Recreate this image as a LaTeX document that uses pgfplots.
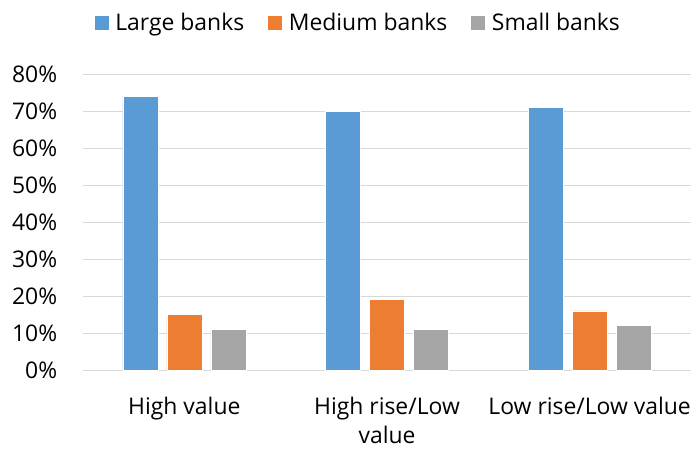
\documentclass[border=0pt]{standalone}
\usepackage{pgfplots}
\pgfplotsset{compat=1.18}
\usepackage{fontspec}
\setmainfont{Open Sans}
\definecolor{cLarge}{HTML}{5B9BD5}
\definecolor{cMedium}{HTML}{ED7D31}
\definecolor{cSmall}{HTML}{A5A5A5}
\definecolor{cGrid}{HTML}{D9D9D9}
\begin{document}
\fontsize{23}{28}\selectfont
\begin{tikzpicture}
\useasboundingbox (-83bp,-81bp) rectangle (608bp,370bp);
\begin{axis}[
  at={(0,0)}, anchor=south west,
  scale only axis,
  width=608bp, height=296bp,
  ybar=9bp, bar width=35bp,
  xmin=-0.5, xmax=2.5,
  ymin=0, ymax=80,
  xtick={0,1,2},
  xticklabels={High value, {High rise/Low\\value}, {Low rise/Low value}},
  xticklabel style={align=center, font=\fontsize{23}{29}\selectfont, yshift=-19bp},
  ytick={0,10,...,80},
  yticklabel={\pgfmathprintnumber{\tick}\%},
  yticklabel style={font=\fontsize{23}{28}\selectfont, xshift=-18bp},
  /pgf/number format/assume math mode=true,
  major tick length=0pt,
  axis line style={draw=none},
  ymajorgrids,
  grid style={cGrid, line width=1bp},
  legend style={at={(0.452,1.172)}, anchor=center, draw=none,
    legend columns=3, font=\fontsize{23}{28}\selectfont,
    /tikz/every even column/.append style={column sep=21bp}},
  legend image code/.code={\fill[#1] (0bp,-7.5bp) rectangle (15bp,7.5bp); \path (19bp,0bp);},
  every axis plot/.append style={draw=white, line width=0.6bp},
]
\addplot[fill=cLarge] coordinates {(0,74) (1,70) (2,71)};
\addplot[fill=cMedium] coordinates {(0,15) (1,19) (2,16)};
\addplot[fill=cSmall] coordinates {(0,11) (1,11) (2,12)};
\legend{Large banks, Medium banks, Small banks}
\end{axis}
\end{tikzpicture}
\end{document}
